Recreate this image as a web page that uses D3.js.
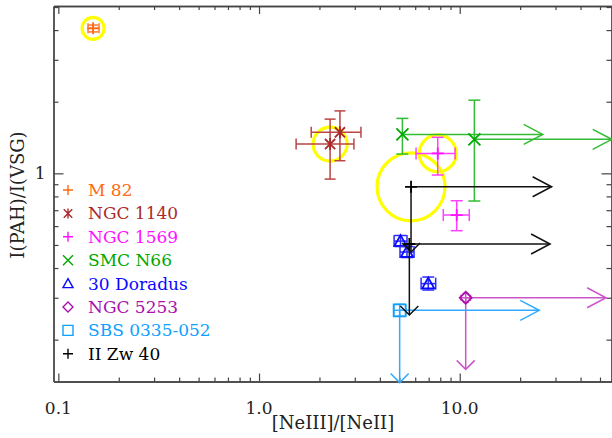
<!DOCTYPE html>
<html>
<head>
<meta charset="utf-8">
<script src="https://cdn.jsdelivr.net/npm/d3@7"></script>
<style>
  html, body { margin: 0; padding: 0; background: #fff; }
  svg { display: block; }
  text { font-family: "DejaVu Serif", "Liberation Serif", serif; }
</style>
</head>
<body>
<svg id="chart" width="612" height="438"></svg>
<script>
// ---------------- DATA ----------------
const seriesNames = ["M 82", "NGC 1140", "NGC 1569", "SMC N66", "30 Doradus", "NGC 5253", "SBS 0335-052", "II Zw 40"];

// each point: x, y, optional error ranges, optional limit arrows (tip values)
const M82 = [
  { x: 0.149, y: 4.07, xErr: [0.1406, 0.1595], yErr: [3.93, 4.20] }
];
const NGC1140 = [
  { x: 2.26, y: 1.327, xErr: [1.53, 2.97], yErr: [0.946, 1.69] },
  { x: 2.53, y: 1.487, xErr: [1.82, 3.22], yErr: [1.13, 1.83] }
];
const NGC1569 = [
  { x: 7.77, y: 1.213, xErr: [6.06, 9.48], yErr: [0.984, 1.417] },
  { x: 9.66, y: 0.668, xErr: [8.28, 11.16], yErr: [0.574, 0.767] }
];
const SMCN66 = [
  { x: 5.18, y: 1.458, yErr: [1.205, 1.702], xLim: 25.9 },
  { x: 11.83, y: 1.39, yErr: [0.765, 2.03], xLim: 57.2 }
];
const Doradus30 = [
  { x: 5.07, y: 0.519, xErr: [4.71, 5.46], yErr: [0.4925, 0.548] },
  { x: 5.46, y: 0.467, xErr: [5.04, 5.92], yErr: [0.4428, 0.4925] },
  { x: 6.97, y: 0.344, xErr: [6.42, 7.59], yErr: [0.3234, 0.3666] }
];
const NGC5253 = [
  { x: 10.71, y: 0.300, xErr: [10.15, 11.3], yErr: [0.287, 0.313], xLim: 53.6, yLim: 0.150 }
];
const SBS0335 = [
  { x: 5.02, y: 0.2657, xErr: [4.69, 5.38], yErr: [0.2507, 0.2815], xLim: 24.9, yLim: 0.132 }
];
const IIZw40 = [
  { x: 5.72, y: 0.878, xLim: 28.7, yLim: 0.467 },
  { x: 5.61, y: 0.5046, xLim: 28.2, yLim: 0.254 }
];

// highlighted objects (yellow rings) : data coordinates
const highlightX = [0.149, 2.26, 7.77, 5.72];
const highlightY = [4.07, 1.327, 1.213, 0.878];

const xTickValues = [0.1, 1, 10];
const xTickLabels = ["0.1", "1.0", "10.0"];
const yTickValues = [1];
const yTickLabels = ["1"];

const xTitle = "[NeIII]/[NeII]";
const yTitle = "I(PAH)/I(VSG)";

// ---------------- STYLES ----------------
const seriesData = [M82, NGC1140, NGC1569, SMCN66, Doradus30, NGC5253, SBS0335, IIZw40];
const markerColor = ["#ff6a10", "#aa2a2a", "#ff10ff", "#00a800", "#0a0aff", "#aa10aa", "#10a0ff", "#000000"];
const lineColor   = ["#ff7a30", "#bb4444", "#ff40ff", "#33bb33", "#2a2aff", "#cc55cc", "#30aaff", "#111111"];
const markerType  = ["plus", "asterisk", "plus", "x", "triangle", "diamond", "square", "plus"];
const capSize     = [5, 5.5, 6, 6, 6, 3, 5, 5];
const highlightR  = [11, 17, 18.5, 34];
const fontFam = "DejaVu Serif, Liberation Serif, serif";

// ---------------- LAYOUT ----------------
const plotLeft = 53.5, plotRight = 611.5, plotTop = 6, plotBottom = 381.5;
const x = d3.scaleLog().domain([0.0946, 57.05]).range([plotLeft, plotRight]);
const y = d3.scaleLog().domain([0.1334, 5.05]).range([plotBottom, plotTop]);

const svg = d3.select("#chart");
const axisColor = "#444";

function markerPath(type, s) {
  switch (type) {
    case "plus": return `M${-s},0H${s}M0,${-s}V${s}`;
    case "x": return `M${-s},${-s}L${s},${s}M${-s},${s}L${s},${-s}`;
    case "asterisk": {
      const a = s * 0.85;
      return `M${-a},${-a}L${a},${a}M${-a},${a}L${a},${-a}M0,${-s}V${s}`;
    }
    case "triangle": return `M0,${-s}L${s},${s * 0.8}L${-s},${s * 0.8}Z`;
    case "diamond": return `M0,${-s}L${s},0L0,${s}L${-s},0Z`;
    case "square": return `M${-s},${-s}H${s}V${s}H${-s}Z`;
  }
}

// ---------------- AXES ----------------
const xTicksMinor = [];
[0.1, 1, 10].forEach(d => { for (let k = 2; k <= 9; k++) { const v = d * k; if (v > x.domain()[0] && v < x.domain()[1]) xTicksMinor.push(v); } });
const yTicksMinor = [];
[0.1, 1].forEach(d => { for (let k = 2; k <= 9; k++) { const v = d * k; if (v > y.domain()[0] && v < y.domain()[1] && v !== 1) yTicksMinor.push(v); } });

const axisG = svg.append("g");
const xAxisB = d3.axisBottom(x).tickValues(xTickValues).tickFormat("").tickSizeInner(-8).tickSizeOuter(0);
const xAxisBm = d3.axisBottom(x).tickValues(xTicksMinor).tickFormat("").tickSizeInner(-4).tickSizeOuter(0);
const xAxisT = d3.axisTop(x).tickValues(xTickValues).tickFormat("").tickSizeInner(-8).tickSizeOuter(0);
const xAxisTm = d3.axisTop(x).tickValues(xTicksMinor).tickFormat("").tickSizeInner(-4).tickSizeOuter(0);
const yAxisL = d3.axisLeft(y).tickValues(yTickValues).tickFormat("").tickSizeInner(-10).tickSizeOuter(0);
const yAxisLm = d3.axisLeft(y).tickValues(yTicksMinor).tickFormat("").tickSizeInner(-5).tickSizeOuter(0);
const yAxisR = d3.axisRight(y).tickValues(yTickValues).tickFormat("").tickSizeInner(-10).tickSizeOuter(0);
const yAxisRm = d3.axisRight(y).tickValues(yTicksMinor).tickFormat("").tickSizeInner(-5).tickSizeOuter(0);

function styleAxis(g) {
  g.selectAll("path").attr("stroke", axisColor).attr("stroke-width", 1.3);
  g.selectAll("line").attr("stroke", axisColor).attr("stroke-width", 1.2);
}
axisG.append("g").attr("transform", `translate(0,${plotBottom})`).call(xAxisB).call(styleAxis);
axisG.append("g").attr("transform", `translate(0,${plotBottom})`).call(xAxisBm).call(styleAxis);
axisG.append("g").attr("transform", `translate(0,${plotTop})`).call(xAxisT).call(styleAxis);
axisG.append("g").attr("transform", `translate(0,${plotTop})`).call(xAxisTm).call(styleAxis);
axisG.append("g").attr("transform", `translate(${plotLeft},0)`).call(yAxisL).call(styleAxis);
axisG.append("g").attr("transform", `translate(${plotLeft},0)`).call(yAxisLm).call(styleAxis);
axisG.append("g").attr("transform", `translate(${plotRight},0)`).call(yAxisR).call(styleAxis);
axisG.append("g").attr("transform", `translate(${plotRight},0)`).call(yAxisRm).call(styleAxis);

// tick labels
svg.append("g").selectAll("text").data(xTickValues).join("text")
  .attr("x", d => x(d)).attr("y", plotBottom + 32)
  .attr("text-anchor", "middle").attr("font-family", fontFam).attr("font-size", 17).attr("fill", "#222")
  .text((d, i) => xTickLabels[i]);
svg.append("g").selectAll("text").data(yTickValues).join("text")
  .attr("x", plotLeft - 8).attr("y", d => y(d) + 6)
  .attr("text-anchor", "end").attr("font-family", fontFam).attr("font-size", 17).attr("fill", "#222")
  .text((d, i) => yTickLabels[i]);

// axis titles
svg.append("text").attr("x", 333).attr("y", 429).attr("text-anchor", "middle")
  .attr("font-family", fontFam).attr("font-size", 18).attr("fill", "#222").text(xTitle);
svg.append("text").attr("transform", "translate(24,195) rotate(-90)").attr("text-anchor", "middle")
  .attr("font-family", fontFam).attr("font-size", 18).attr("fill", "#222").text(yTitle);

// ---------------- HIGHLIGHT RINGS ----------------
svg.append("g").selectAll("circle").data(highlightX).join("circle")
  .attr("cx", d => x(d)).attr("cy", (d, i) => y(highlightY[i]))
  .attr("r", (d, i) => highlightR[i])
  .attr("fill", "none").attr("stroke", "#ffff00").attr("stroke-width", 3.2);

// ---------------- DATA MARKS ----------------
const dataG = svg.append("g");
seriesData.forEach((pts, si) => {
  const g = dataG.append("g");
  const lc = lineColor[si], mc = markerColor[si], cap = capSize[si];
  pts.forEach(p => {
    const px = x(p.x), py = y(p.y);
    const eg = g.append("g").attr("stroke", lc).attr("stroke-width", 1.5).attr("fill", "none");
    if (p.xErr) {
      const x0 = x(p.xErr[0]), x1 = x(p.xErr[1]);
      eg.append("line").attr("x1", x0).attr("x2", x1).attr("y1", py).attr("y2", py);
      eg.append("line").attr("x1", x0).attr("x2", x0).attr("y1", py - cap).attr("y2", py + cap);
      eg.append("line").attr("x1", x1).attr("x2", x1).attr("y1", py - cap).attr("y2", py + cap);
    }
    if (p.yErr) {
      const y0 = y(p.yErr[0]), y1 = y(p.yErr[1]);
      eg.append("line").attr("x1", px).attr("x2", px).attr("y1", y0).attr("y2", y1);
      eg.append("line").attr("x1", px - cap).attr("x2", px + cap).attr("y1", y0).attr("y2", y0);
      eg.append("line").attr("x1", px - cap).attr("x2", px + cap).attr("y1", y1).attr("y2", y1);
    }
    if (p.xLim) {
      const tx = x(p.xLim);
      eg.append("line").attr("x1", px).attr("x2", tx).attr("y1", py).attr("y2", py);
      eg.append("path").attr("d", `M${tx - 19},${py - 10}L${tx},${py}L${tx - 19},${py + 10}`);
    }
    if (p.yLim) {
      const ty = y(p.yLim);
      eg.append("line").attr("x1", px).attr("x2", px).attr("y1", py).attr("y2", ty);
      eg.append("path").attr("d", `M${px - 9},${ty - 9}L${px},${ty}L${px + 9},${ty - 9}`);
    }
    g.append("path").attr("transform", `translate(${px},${py})`)
      .attr("d", markerPath(markerType[si], 6))
      .attr("fill", "none").attr("stroke", mc).attr("stroke-width", 1.8);
  });
});

// ---------------- LEGEND ----------------
const legend = svg.append("g");
seriesNames.forEach((name, i) => {
  const ly = 190 + i * 23.4;
  legend.append("path").attr("transform", `translate(68,${ly})`)
    .attr("d", markerPath(markerType[i], 5))
    .attr("fill", "none").attr("stroke", markerColor[i]).attr("stroke-width", 1.4);
  legend.append("text").attr("x", 88).attr("y", ly + 6)
    .attr("font-family", fontFam).attr("font-size", 17).attr("fill", markerColor[i]).text(name);
});
</script>
</body>
</html>
